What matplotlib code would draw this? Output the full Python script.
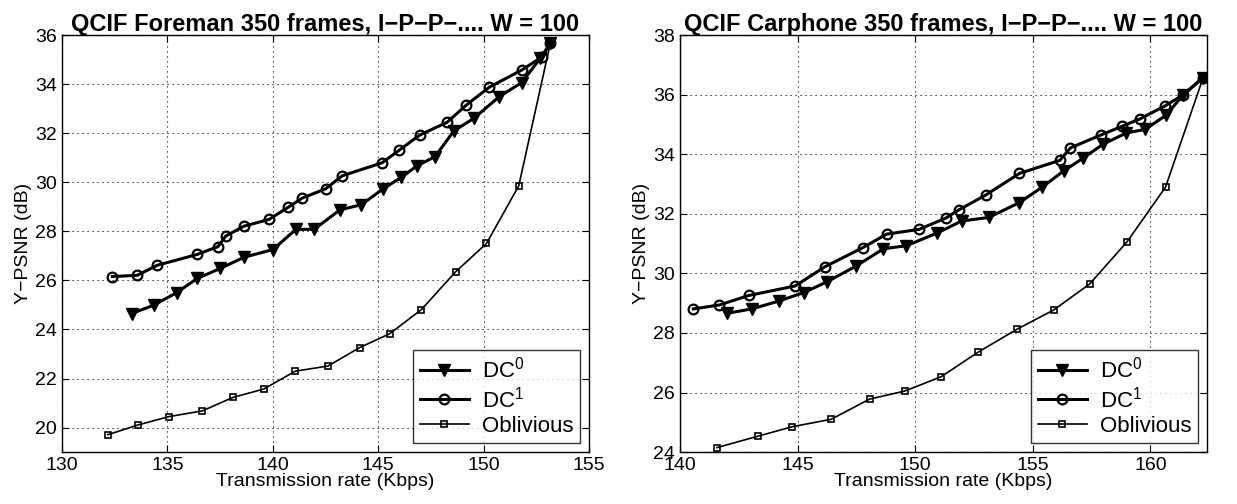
import matplotlib
matplotlib.use("Agg")
from matplotlib import pyplot as plt

plt.rcParams['font.family'] = ['Liberation Sans', 'DejaVu Sans']
plt.rcParams['mathtext.default'] = 'regular'

# Foreman (left)
fm_dc0_x = [133.30, 134.35, 135.44, 136.41, 137.51, 138.65, 140.01, 141.09, 141.97, 143.19,
            144.21, 145.22, 146.09, 146.85, 147.70, 148.59, 149.55, 150.75, 151.81, 152.70, 153.17]
fm_dc0_y = [24.65, 24.99, 25.50, 26.08, 26.49, 26.95, 27.26, 28.08, 28.09, 28.88,
            29.09, 29.73, 30.20, 30.68, 31.05, 32.10, 32.62, 33.50, 34.07, 35.07, 35.68]
fm_dc1_x = [132.39, 133.57, 134.52, 136.41, 137.40, 137.77, 138.62, 139.82, 140.74, 141.40,
            142.51, 143.30, 145.19, 146.01, 146.97, 148.27, 149.19, 150.27, 151.81, 152.76, 153.17]
fm_dc1_y = [26.16, 26.21, 26.62, 27.06, 27.38, 27.81, 28.21, 28.49, 28.99, 29.36,
            29.74, 30.27, 30.80, 31.32, 31.93, 32.45, 33.16, 33.88, 34.58, 35.11, 35.68]
fm_obl_x = [132.18, 133.62, 135.09, 136.66, 138.11, 139.57, 141.07, 142.62, 144.12, 145.55,
            147.05, 148.67, 150.14, 151.67, 153.17]
fm_obl_y = [19.71, 20.11, 20.45, 20.68, 21.23, 21.57, 22.30, 22.51, 23.26, 23.83,
            24.81, 26.35, 27.51, 29.86, 35.68]

# Carphone (right)
cp_dc0_x = [142.00, 143.06, 144.19, 145.27, 146.25, 147.49, 148.65, 149.62, 150.91, 151.97,
            153.12, 154.43, 155.38, 156.32, 157.13, 157.98, 158.98, 159.78, 160.67, 161.38, 162.24]
cp_dc0_y = [28.66, 28.81, 29.07, 29.36, 29.72, 30.25, 30.83, 30.93, 31.35, 31.76,
            31.88, 32.38, 32.89, 33.45, 33.87, 34.34, 34.72, 34.84, 35.32, 35.99, 36.58]
cp_dc1_x = [140.57, 141.67, 142.92, 144.90, 146.15, 147.78, 148.78, 150.16, 151.30, 151.84,
            152.99, 154.43, 156.15, 156.60, 157.89, 158.81, 159.55, 160.60, 161.38, 162.24]
cp_dc1_y = [28.81, 28.94, 29.26, 29.58, 30.22, 30.87, 31.32, 31.48, 31.86, 32.13,
            32.63, 33.36, 33.80, 34.22, 34.65, 34.95, 35.19, 35.62, 35.99, 36.58]
cp_obl_x = [141.57, 143.30, 144.76, 146.42, 148.06, 149.55, 151.10, 152.66, 154.31, 155.88,
            157.42, 159.01, 160.64, 162.24]
cp_obl_y = [24.15, 24.53, 24.85, 25.10, 25.78, 26.05, 26.53, 27.35, 28.12, 28.77,
            29.65, 31.07, 32.90, 36.58]

labels = ['DC$^0$', 'DC$^1$', 'Oblivious']

fig = plt.figure(figsize=(12.37, 5.04), dpi=100)
ax1 = fig.add_axes([0.0501, 0.103, 0.426, 0.827])
ax2 = fig.add_axes([0.5497, 0.103, 0.426, 0.827])


def draw(ax, d0x, d0y, d1x, d1y, ox, oy, title):
    ax.plot(d0x, d0y, color='k', lw=2.2, marker='v', ms=8, mfc='k', mec='k', label=labels[0])
    ax.plot(d1x, d1y, color='k', lw=2.2, marker='o', ms=7, mfc='none', mec='k', mew=1.6, label=labels[1])
    ax.plot(ox, oy, color='k', lw=1.2, marker='s', ms=5, mfc='none', mec='k', mew=1.2, label=labels[2])
    ax.grid(True, color='k', linestyle=(0, (1, 3.5)), linewidth=0.8)
    ax.tick_params(direction='in', top=True, right=True, labelsize=14, length=5)
    ax.set_xlabel('Transmission rate (Kbps)', fontsize=14, labelpad=-1)
    ax.set_ylabel('Y\u2212PSNR (dB)', fontsize=14, labelpad=2)
    ax.set_title(title, fontsize=17, fontweight='bold', pad=3)
    for s in ax.spines.values():
        s.set_linewidth(1.0)
    leg = ax.legend(loc='lower right', fontsize=16, frameon=True, fancybox=False,
                    edgecolor='k', borderaxespad=0.4, handlelength=2.2, labelspacing=0.15,
                    borderpad=0.3, handletextpad=0.6)
    leg.get_frame().set_linewidth(1.0)


draw(ax1, fm_dc0_x, fm_dc0_y, fm_dc1_x, fm_dc1_y, fm_obl_x, fm_obl_y,
     'QCIF Foreman 350 frames, I\u2212P\u2212P\u2212.... W = 100')
ax1.set_xlim(130, 155)
ax1.set_ylim(19, 36)
ax1.set_xticks([130, 135, 140, 145, 150, 155])
ax1.set_yticks([20, 22, 24, 26, 28, 30, 32, 34, 36])

draw(ax2, cp_dc0_x, cp_dc0_y, cp_dc1_x, cp_dc1_y, cp_obl_x, cp_obl_y,
     'QCIF Carphone 350 frames, I\u2212P\u2212P\u2212.... W = 100')
ax2.set_xlim(140, 162.4)
ax2.set_ylim(24, 38)
ax2.set_xticks([140, 145, 150, 155, 160])
ax2.set_yticks([24, 26, 28, 30, 32, 34, 36, 38])

fig.savefig('out.png', dpi=100)
